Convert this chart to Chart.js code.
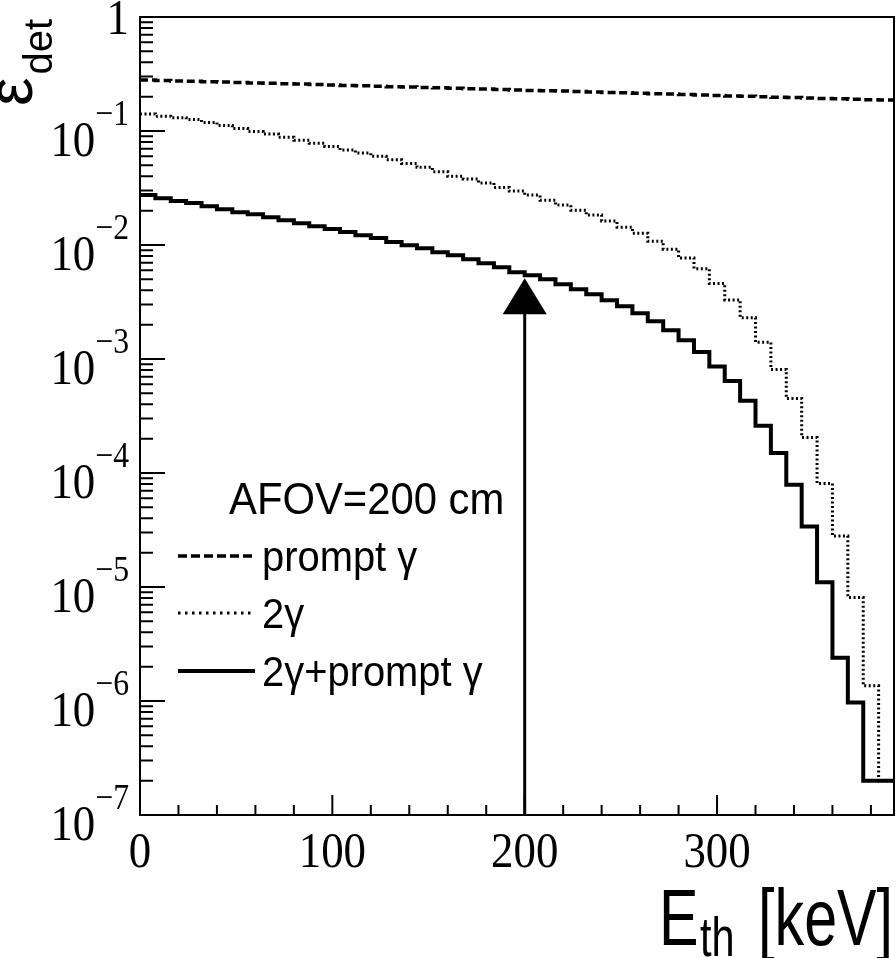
<!DOCTYPE html>
<html>
<head>
<meta charset="utf-8">
<script src="https://cdn.jsdelivr.net/npm/chart.js@4.4.1/dist/chart.umd.min.js"></script>
<style>
  html, body { margin: 0; padding: 0; background: #fff; }
  #wrap { width: 896px; height: 958px; position: relative; }
</style>
</head>
<body>
<div id="wrap"><canvas id="chart"></canvas></div>
<script>
// bin lower edges [keV], last entry closes the final bin
const binEdges = [0, 8, 16, 24, 32, 40, 48, 56, 64, 72, 80, 88, 96, 104, 112, 120, 128, 136, 144, 152,
  160, 168, 176, 184, 192, 200, 208, 216, 224, 232, 240, 248, 256, 264, 272, 280, 288, 296, 304, 312,
  320, 328, 336, 344, 352, 360, 368, 376, 384, 392];

// detection efficiency per bin
const promptGamma = [0.280, 0.278, 0.275, 0.273, 0.271, 0.269, 0.266, 0.264, 0.262, 0.260,
  0.258, 0.256, 0.253, 0.251, 0.249, 0.247, 0.245, 0.243, 0.241, 0.239,
  0.237, 0.235, 0.233, 0.231, 0.229, 0.227, 0.225, 0.224, 0.222, 0.220,
  0.218, 0.216, 0.214, 0.212, 0.211, 0.209, 0.207, 0.205, 0.203, 0.202,
  0.200, 0.198, 0.197, 0.195, 0.193, 0.192, 0.190, 0.188, 0.187];

const twoGamma = [0.141, 0.135, 0.131, 0.126, 0.119, 0.112, 0.105, 0.099, 0.094, 0.088,
  0.083, 0.078, 0.073, 0.068, 0.064, 0.060, 0.056, 0.052, 0.048, 0.044,
  0.040, 0.038, 0.035, 0.032, 0.0297, 0.0274, 0.0247, 0.0224, 0.0202, 0.0183,
  0.0162, 0.0143, 0.0127, 0.0108, 0.0092, 0.0077, 0.0062, 0.0046, 0.0033, 0.0023,
  0.0014, 8.1e-4, 4.5e-4, 2.05e-4, 8.1e-5, 2.8e-5, 8.1e-6, 1.36e-6, 2.0e-7];

const twoGammaPrompt = [0.0274, 0.0257, 0.0243, 0.0233, 0.0219, 0.0206, 0.0194, 0.0186, 0.0175, 0.0165,
  0.0155, 0.0146, 0.0138, 0.0130, 0.0122, 0.0115, 0.0106, 0.00996, 0.00938, 0.00865,
  0.00813, 0.00750, 0.00692, 0.00638, 0.00577, 0.00543, 0.00501, 0.00453, 0.00409, 0.00370,
  0.00328, 0.00290, 0.00252, 0.00214, 0.00179, 0.00146, 0.00115, 8.6e-4, 6.4e-4, 4.3e-4,
  2.6e-4, 1.5e-4, 7.9e-5, 3.4e-5, 1.1e-5, 2.4e-6, 9.7e-7, 2.0e-7, 2.0e-7];

const seriesNames = ['prompt γ', '2γ', '2γ+prompt γ'];
const legendTitle = 'AFOV=200 cm';
const xTickValues = [0, 100, 200, 300];
const xTickLabels = ['0', '100', '200', '300'];
const yTickExponents = [0, -1, -2, -3, -4, -5, -6, -7];

// threshold marker
const arrowE = 200;
const arrowTip = 0.0051;
const arrowBase = 1e-7;

function toSteps(vals) {
  return binEdges.map((e, i) => ({ x: e, y: vals[Math.min(i, vals.length - 1)] }));
}

const lineStyles = [
  { width: 3.5, dash: [8, 4], legendDash: [9, 4] },
  { width: 3, dash: [2, 2.5], legendDash: [2.5, 4.5] },
  { width: 4, dash: [], legendDash: [] }
];

function txt(ctx, s, x, y, font, align, sx) {
  ctx.save();
  ctx.font = font;
  ctx.translate(x, y);
  ctx.scale(sx, 1);
  ctx.textAlign = align;
  ctx.textBaseline = 'alphabetic';
  ctx.fillText(s, 0, 0);
  ctx.restore();
}

function width(ctx, s, font, sx) {
  ctx.save();
  ctx.font = font;
  const w = ctx.measureText(s).width * sx;
  ctx.restore();
  return w;
}

const rootFrame = {
  id: 'rootFrame',
  afterDatasetsDraw(chart) {
    const { ctx, chartArea: a, scales: { x, y } } = chart;
    ctx.save();
    ctx.strokeStyle = '#000';
    ctx.fillStyle = '#000';

    // arrow at the threshold
    const ax = x.getPixelForValue(arrowE);
    const tipY = y.getPixelForValue(arrowTip);
    ctx.lineWidth = 3;
    ctx.beginPath();
    ctx.moveTo(ax, y.getPixelForValue(arrowBase));
    ctx.lineTo(ax, tipY + 30);
    ctx.stroke();
    ctx.beginPath();
    ctx.moveTo(ax, tipY);
    ctx.lineTo(ax - 22, tipY + 36);
    ctx.lineTo(ax + 22, tipY + 36);
    ctx.closePath();
    ctx.fill();

    // frame
    ctx.lineWidth = 2;
    ctx.strokeRect(a.left, a.top, a.right - a.left, a.bottom - a.top);

    // y ticks (inside)
    ctx.lineWidth = 2;
    ctx.beginPath();
    for (let d = -7; d <= 0; d++) {
      const py = y.getPixelForValue(Math.pow(10, d));
      ctx.moveTo(a.left, py); ctx.lineTo(a.left + 25, py);
      if (d < 0) {
        for (let k = 2; k <= 9; k++) {
          const my = y.getPixelForValue(k * Math.pow(10, d));
          ctx.moveTo(a.left, my); ctx.lineTo(a.left + 13, my);
        }
      }
    }
    // x ticks (inside)
    for (let v = 0; v <= 392; v += 20) {
      const px = x.getPixelForValue(v);
      const len = v % 100 === 0 ? 20 : 10;
      ctx.moveTo(px, a.bottom); ctx.lineTo(px, a.bottom - len);
    }
    ctx.stroke();

    // y labels
    const serif = '"Liberation Serif", "Times New Roman", serif';
    const sx = 0.88;
    const bigF = '51px ' + serif;
    const supF = '36px ' + serif;
    const rightX = 129;
    yTickExponents.forEach(p => {
      const py = y.getPixelForValue(Math.pow(10, p));
      if (p === 0) {
        txt(ctx, '1', rightX, py + 17, bigF, 'right', sx);
      } else {
        const sup = '\u2212' + Math.abs(p);
        const ws = width(ctx, sup, supF, sx);
        txt(ctx, sup, rightX, py - 6, supF, 'right', sx);
        txt(ctx, '10', rightX - ws, py + 25, bigF, 'right', sx);
      }
    });

    // x labels
    xTickValues.forEach((v, i) => {
      txt(ctx, xTickLabels[i], x.getPixelForValue(v), a.bottom + 52, bigF, 'center', sx);
    });

    // axis titles
    const sans = '"Liberation Sans", Arial, sans-serif';
    const tsx = 0.74;
    txt(ctx, 'E', 659, 945, '80px ' + sans, 'left', tsx);
    txt(ctx, 'th', 700, 956, '56px ' + sans, 'left', tsx);
    txt(ctx, '[keV]', 893, 945, '80px ' + sans, 'right', tsx);

    ctx.save();
    ctx.translate(32, 106);
    ctx.rotate(-Math.PI / 2);
    txt(ctx, 'ε', 0, 0, '64px ' + sans, 'left', 1);
    const we = width(ctx, 'ε', '64px ' + sans, 1);
    txt(ctx, 'det', we + 3, 20, '40px ' + sans, 'left', 1);
    ctx.restore();

    // legend
    txt(ctx, legendTitle, 229, 514, '44px ' + sans, 'left', 0.95);
    const rows = [556, 613, 671];
    chart.data.datasets.forEach((ds, i) => {
      const st = lineStyles[i];
      ctx.save();
      ctx.lineWidth = st.width;
      ctx.setLineDash(st.legendDash);
      ctx.beginPath();
      ctx.moveTo(178, rows[i]);
      ctx.lineTo(255, rows[i]);
      ctx.stroke();
      ctx.restore();
      txt(ctx, seriesNames[i], 262, rows[i] + 15, '42px ' + sans, 'left', 0.95);
    });

    ctx.restore();
  }
};

const series = [promptGamma, twoGamma, twoGammaPrompt];

new Chart(document.getElementById('chart'), {
  type: 'line',
  data: {
    datasets: series.map((vals, i) => ({
      label: seriesNames[i],
      data: toSteps(vals),
      stepped: 'before',
      borderColor: '#000',
      borderWidth: lineStyles[i].width,
      borderDash: lineStyles[i].dash,
      borderCapStyle: 'butt',
      borderJoinStyle: 'miter',
      pointRadius: 0,
      fill: false,
      order: 2 - i
    }))
  },
  options: {
    responsive: true,
    maintainAspectRatio: false,
    animation: false,
    layout: { padding: { left: 140, top: 17, right: 2, bottom: 143 } },
    plugins: { legend: { display: false }, tooltip: { enabled: false } },
    scales: {
      x: { type: 'linear', min: 0, max: 392, display: false },
      y: { type: 'logarithmic', min: 1e-7, max: 1, display: false }
    }
  },
  plugins: [rootFrame]
});
</script>
</body>
</html>
